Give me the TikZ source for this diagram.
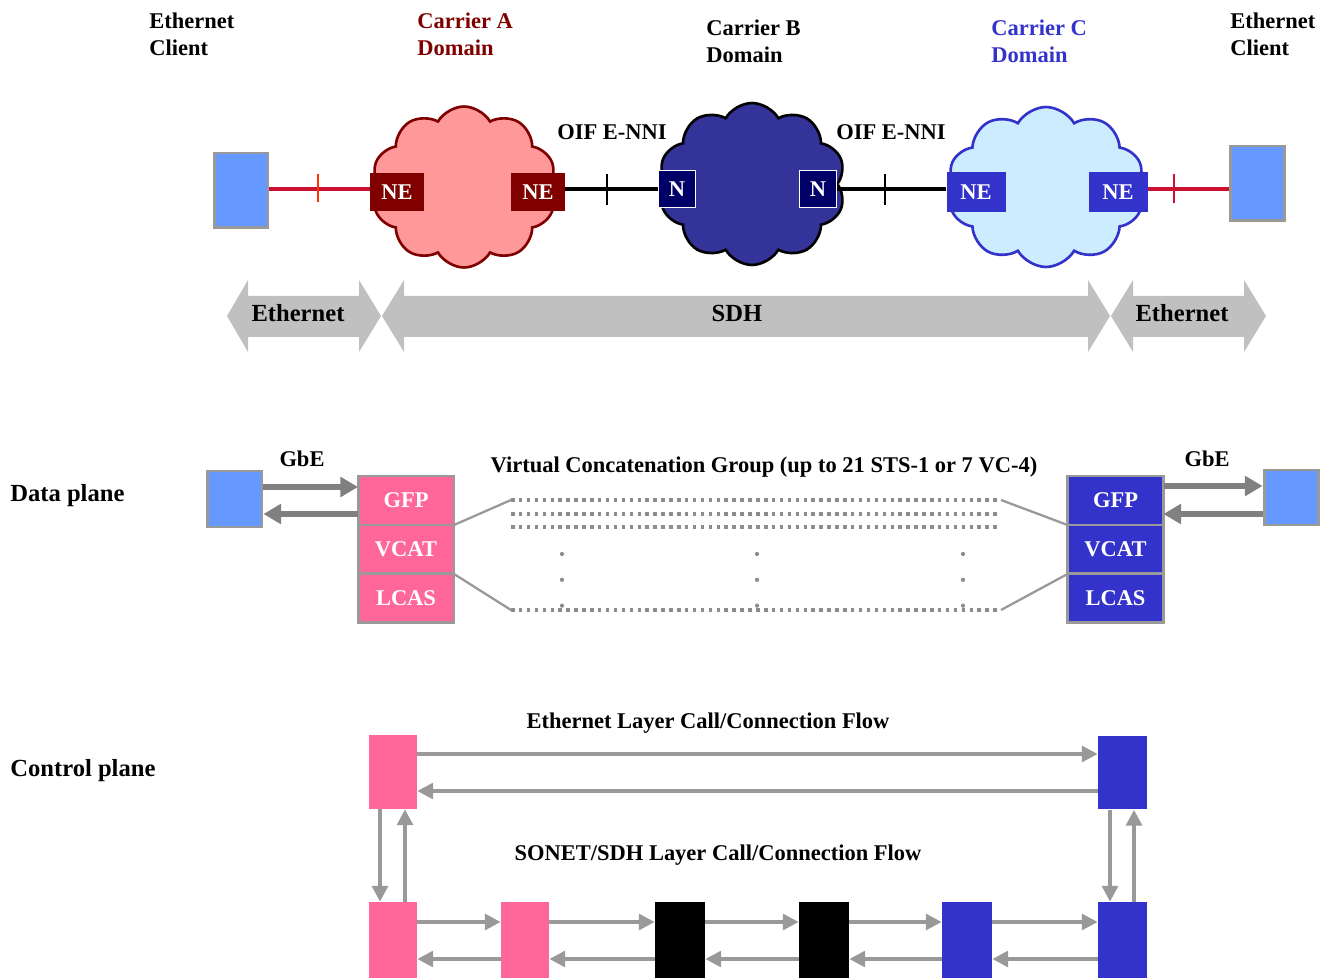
\documentclass[tikz,border=0pt]{standalone}
\usepackage{fontspec}
\setmainfont{Liberation Serif}
\usepackage{xcolor}
\definecolor{client-blue}{HTML}{6699FF}
\definecolor{frame-gray}{HTML}{999999}
\definecolor{dot-gray}{HTML}{8C8C8C}
\definecolor{gbe-gray}{HTML}{808080}
\definecolor{band-gray}{HTML}{C0C0C0}
\definecolor{carrier-red}{HTML}{800000}
\definecolor{cloud-red}{HTML}{FF9999}
\definecolor{carrier-navy}{HTML}{333399}
\definecolor{node-navy}{HTML}{000066}
\definecolor{carrier-blue}{HTML}{3333CC}
\definecolor{cloud-blue}{HTML}{CCECFF}
\definecolor{link-red}{HTML}{CC1133}
\definecolor{tick-red}{HTML}{FF3300}
\definecolor{vc-pink}{HTML}{FF6699}
\usepackage{tikz}
\usetikzlibrary{shapes.symbols,arrows.meta,positioning}

\begin{document}
\begin{tikzpicture}[x=0.02cm, y=-0.02cm,
    every node/.style={font=\fontsize{12.8}{15.3}\selectfont\bfseries},
    big/.style={font=\fontsize{14}{17}\selectfont\bfseries},
    header/.style={anchor=north west, align=left, inner sep=0pt},
    client/.style={draw=frame-gray, line width=1.7pt, fill=client-blue, minimum width=1.08cm, minimum height=1.5cm, inner sep=0pt},
    cloudshape/.style={cloud, cloud puffs=10, cloud puff arc=120, cloud ignores aspect, line width=1.5pt, inner sep=0pt},
    nebox/.style={fill=#1, text=white, minimum width=1.08cm, minimum height=0.76cm, inner sep=0pt},
    nbox/.style={fill=node-navy, draw=white, line width=1.1pt, text=white, minimum size=0.74cm, inner sep=0pt},
    stackbox/.style={draw=frame-gray, line width=1.7pt, fill=#1, text=white, minimum width=1.92cm, minimum height=0.98cm, inner sep=0pt, outer sep=0pt},
    ctl/.style={fill=#1, minimum width=0.96cm, minimum height=1.48cm, inner sep=0pt},
    link/.style={line width=2.3pt},
    gbe/.style={draw=gbe-gray, line width=3.4pt, -{Triangle[length=10pt,width=11pt]}},
    flow/.style={draw=frame-gray, line width=2pt, -{Triangle[length=9pt,width=9pt]}},
    vcg/.style={draw=dot-gray, line width=2pt, dash pattern=on 2pt off 2.5pt},
    fan/.style={draw=frame-gray, line width=1.3pt},
    vdotline/.style={draw=dot-gray, line width=2.4pt, line cap=round, dash pattern=on 0pt off 14.7pt}]

    \useasboundingbox (0,0) rectangle (1332,979);

    % Headers
    \node[header] (hdClientL) at (149,13) {Ethernet\\Client};
    \node[header, text=carrier-red] (hdCarrierA) at (417,13) {Carrier A\\Domain};
    \node[header] (hdCarrierB) at (706,20) {Carrier B\\Domain};
    \node[header, text=carrier-blue] (hdCarrierC) at (991,20) {Carrier C\\Domain};
    \node[header] (hdClientR) at (1230,13) {Ethernet\\Client};

    % Clouds
    \node[cloudshape, draw=carrier-red, fill=cloud-red, minimum width=3.7cm, minimum height=3.22cm] (cloudA) at (464,187) {};
    \node[cloudshape, draw=black, fill=carrier-navy, minimum width=3.74cm, minimum height=3.24cm] (cloudB) at (752,184) {};
    \node[cloudshape, draw=carrier-blue, fill=cloud-blue, minimum width=3.94cm, minimum height=3.2cm] (cloudC) at (1046,187) {};

    % Clients and network elements
    \node[client] (cliL) at (241,190.5) {};
    \node[client] (cliR) at (1257,183.5) {};
    \node[nebox=carrier-red] (neA1) at (397,192) {NE};
    \node[nebox=carrier-red] (neA2) at (538,192) {NE};
    \node[nbox] (nB1) at (677,189) {N};
    \node[nbox] (nB2) at (818,189) {N};
    \node[nebox=carrier-blue, minimum width=1.18cm, minimum height=0.8cm] (neC1) at (976,192) {NE};
    \node[nebox=carrier-blue, minimum width=1.18cm, minimum height=0.8cm] (neC2) at (1118,192) {NE};

    % Links
    \draw[link, link-red] (cliL.east |- 0,189) -- (neA1.west |- 0,189);
    \draw[link, black] (neA2.east |- 0,189) -- (nB1.west |- 0,189);
    \draw[link, black] (nB2.east |- 0,189) -- (neC1.west |- 0,189);
    \draw[link, link-red] (neC2.east |- 0,189) -- (cliR.west |- 0,189);
    \draw[tick-red, line width=1.4pt] (318,174) -- (318,202);
    \draw[black, line width=1.4pt] (607,174) -- (607,205);
    \draw[black, line width=1.4pt] (885,174) -- (885,205);
    \draw[link-red, line width=1.4pt] (1174,174) -- (1174,203);
    \node (enniL) at (612,132) {OIF E-NNI};
    \node (enniR) at (891,132) {OIF E-NNI};

    % Bands
    \fill[band-gray] (227,316) -- (248,280) -- (248,296) -- (359,296) -- (359,280) -- (381,316) -- (359,352) -- (359,337) -- (248,337) -- (248,352) -- cycle;
    \fill[band-gray] (382,316) -- (404,280) -- (404,296) -- (1088,296) -- (1088,280) -- (1110,316) -- (1088,352) -- (1088,337) -- (404,337) -- (404,352) -- cycle;
    \fill[band-gray] (1111,316) -- (1133,280) -- (1133,296) -- (1244,296) -- (1244,280) -- (1266,316) -- (1244,352) -- (1244,337) -- (1133,337) -- (1133,352) -- cycle;
    \node[big] (bandEthL) at (298,313) {Ethernet};
    \node[big] (bandSdh) at (737,313) {SDH};
    \node[big] (bandEthR) at (1182,313) {Ethernet};

    % Data plane
    \node[big, anchor=west, inner sep=0pt] (dataPlane) at (10,496) {Data plane};
    \node[client, minimum width=1.1cm, minimum height=1.12cm] (cliDL) at (234.5,499) {};
    \node[client, minimum width=1.08cm, minimum height=1.1cm] (cliDR) at (1291,497.5) {};
    \node[stackbox=vc-pink] (gfpL) at (406,500.5) {GFP};
    \node[stackbox=vc-pink, below=0pt of gfpL] (vcatL) {VCAT};
    \node[stackbox=vc-pink, below=0pt of vcatL] (lcasL) {LCAS};
    \node[stackbox=carrier-blue] (gfpR) at (1115.5,500.5) {GFP};
    \node[stackbox=carrier-blue, below=0pt of gfpR] (vcatR) {VCAT};
    \node[stackbox=carrier-blue, below=0pt of vcatR] (lcasR) {LCAS};
    \node (gbeL) at (302,459) {GbE};
    \node (gbeR) at (1207,459) {GbE};
    \node (vcgLabel) at (764,467) {Virtual Concatenation Group (up to 21 STS-1 or 7 VC-4)};

    \draw[gbe] (cliDL.east |- 0,487) -- (gfpL.west |- 0,487);
    \draw[gbe] (gfpL.west |- 0,514) -- (cliDL.east |- 0,514);
    \draw[gbe] (gfpR.east |- 0,486) -- (cliDR.west |- 0,486);
    \draw[gbe] (cliDR.west |- 0,514) -- (gfpR.east |- 0,514);

    % Virtual concatenation group
    \coordinate (vcgTL) at (511,500);
    \coordinate (vcgTR) at (1001,500);
    \coordinate (vcgBL) at (511,610);
    \coordinate (vcgBR) at (1001,610);
    \draw[vcg] (vcgTL) -- (vcgTR);
    \draw[vcg] (511,514) -- (1001,514);
    \draw[vcg] (511,527) -- (1001,527);
    \draw[vcg] (vcgBL) -- (vcgBR);
    \draw[fan] (gfpL.south east) -- (vcgTL);
    \draw[fan] (vcatL.south east) -- (vcgBL);
    \draw[fan] (vcgTR) -- (gfpR.south west);
    \draw[fan] (vcgBR) -- (vcatR.south west);
    \draw[vdotline] (562,554) -- (562,608);
    \draw[vdotline] (757,554) -- (757,608);
    \draw[vdotline] (963,554) -- (963,608);

    % Control plane
    \node[big, anchor=west, inner sep=0pt] (ctlPlane) at (10,771) {Control plane};
    \node (ethFlow) at (708,723) {Ethernet Layer Call/Connection Flow};
    \node (sdhFlow) at (718,855) {SONET/SDH Layer Call/Connection Flow};
    \node[ctl=vc-pink] (ethA) at (393,772) {};
    \node[ctl=carrier-blue, minimum width=0.98cm] (ethC) at (1122.5,772.5) {};
    \node[ctl=vc-pink, minimum height=1.52cm] (sdhA1) at (393,940) {};
    \node[ctl=vc-pink, minimum height=1.52cm] (sdhA2) at (525,940) {};
    \node[ctl=black, minimum width=1cm, minimum height=1.52cm] (sdhB1) at (680,940) {};
    \node[ctl=black, minimum width=1cm, minimum height=1.52cm] (sdhB2) at (824,940) {};
    \node[ctl=carrier-blue, minimum width=1cm, minimum height=1.52cm] (sdhC1) at (967,940) {};
    \node[ctl=carrier-blue, minimum width=0.98cm, minimum height=1.52cm] (sdhC2) at (1122.5,940) {};

    \draw[flow] (ethA.east |- 0,754) -- (ethC.west |- 0,754);
    \draw[flow] (ethC.west |- 0,791) -- (ethA.east |- 0,791);
    \draw[flow] (380,0 |- ethA.south) -- (380,0 |- sdhA1.north);
    \draw[flow] (405,0 |- sdhA1.north) -- (405,0 |- ethA.south);
    \draw[flow] (1110,0 |- ethC.south) -- (1110,0 |- sdhC2.north);
    \draw[flow] (1134,0 |- sdhC2.north) -- (1134,0 |- ethC.south);
    \foreach \a/\b in {sdhA1/sdhA2, sdhA2/sdhB1, sdhB1/sdhB2, sdhB2/sdhC1, sdhC1/sdhC2} {
        \draw[flow] (\a.east |- 0,922) -- (\b.west |- 0,922);
        \draw[flow] (\b.west |- 0,959) -- (\a.east |- 0,959);
    }

\end{tikzpicture}
\end{document}
